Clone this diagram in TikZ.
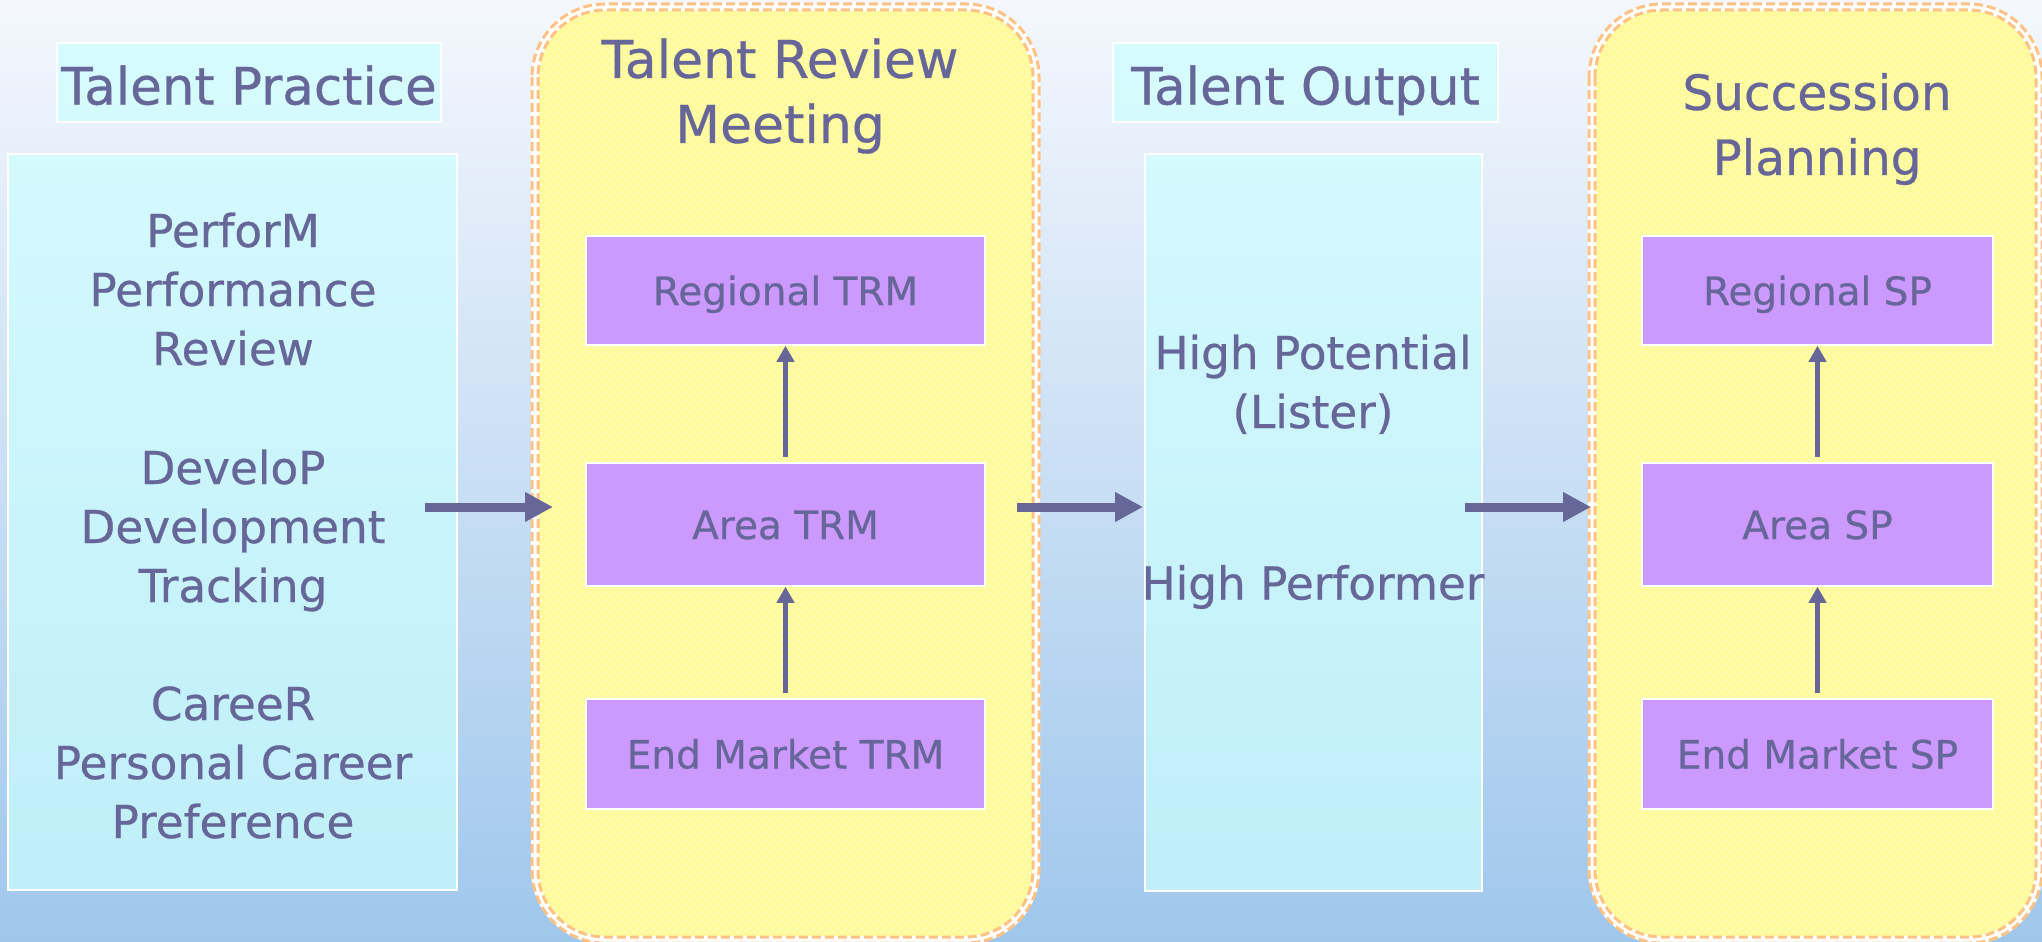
\documentclass[tikz,border=0pt]{standalone}
\usepackage{fontspec}
\setmainfont{DejaVu Sans}[FakeBold=0.6]
\usetikzlibrary{arrows.meta,patterns.meta,calc}

\definecolor{ink}{HTML}{666699}
\definecolor{bgtop}{HTML}{F4F7FD}
\definecolor{bgbot}{HTML}{9FC7EC}
\definecolor{cyanfill}{HTML}{CCFFFF}
\definecolor{lilac}{HTML}{CC99FF}
\definecolor{butter}{HTML}{FFFA9C}
\definecolor{peach}{HTML}{FFC285}

% small white sprinkles on the yellow stage panels
\tikzdeclarepattern{
  name=sprinkle,
  type=uncolored,
  bottom left={(0pt,0pt)},
  top right={(8pt,8pt)},
  tile size={(8pt,8pt)},
  code={
    \pgfpathcircle{\pgfqpoint{2pt}{2pt}}{0.9pt}
    \pgfpathcircle{\pgfqpoint{6pt}{6pt}}{0.9pt}
    \pgfusepath{fill}
  }
}

\tikzset{
  panel/.style={draw=white, line width=2, fill=cyanfill, fill opacity=0.7,
    text opacity=1, inner sep=0, outer sep=0},
  stage/.style={draw=white, line width=8, fill=butter, rounded corners=70,
    inner sep=0, outer sep=0,
    postaction={pattern=sprinkle, pattern color=white}},
  stagedash/.style={draw=peach, line width=3, dash pattern=on 9 off 4},
  level/.style={draw=white, line width=1.5, fill=lilac, inner sep=0,
    minimum width=#1, font=\fontsize{39}{47}\selectfont, text=ink,
    text height=29, text depth=0},
  heading/.style={font=\fontsize{#1}{65}\selectfont, text=ink, align=center},
  heading/.default=52,
  labeltext/.style={font=\fontsize{51.5}{65}\selectfont, text=ink,
    text height=44, text depth=0},
  body/.style={font=\fontsize{45.3}{59}\selectfont, text=ink, align=center,
    text height=34, text depth=12}
}
\tikzset{
  flow/.style={draw=ink, line width=9,
    -{Triangle[length=28pt,width=28pt]}},
  rise/.style={draw=ink, line width=5.5,
    -{Triangle[length=16pt,width=17pt]}}
}

\begin{document}
\begin{tikzpicture}[x=1pt,y=-1pt]
  \useasboundingbox (0,0) rectangle (2042,942);
  \shade[top color=bgtop, bottom color=bgbot] (0,0) rectangle (2042,942);

  % column 1: talent practice
  \node[panel, labeltext, minimum width=384, minimum height=79] (tplabel)
    at (249,82.5) {Talent Practice};
  \node[panel, minimum width=449, minimum height=736] (leftbox) at (232.5,522) {};
  \node[body] (perform) at (233,354) {PerforM\\Performance\\Review};
  \node[body] (develop) at (233,591) {DeveloP\\Development\\Tracking};
  \node[body] (career)  at (233,827) {CareeR\\Personal Career\\Preference};

  % column 2: talent review meeting
  \node[stage, minimum width=501, minimum height=933] (ybox1) at (785.5,473.5) {};
  \draw[stagedash, rounded corners=73]
    ($(ybox1.north west)+(-3,-3)$) rectangle ($(ybox1.south east)+(3,3)$);
  \draw[stagedash, rounded corners=67]
    ($(ybox1.north west)+(3,3)$) rectangle ($(ybox1.south east)+(-3,-3)$);
  \node[heading] (trmtitle) at (780,96) {Talent Review\\Meeting};
  \node[level=399, minimum height=109] (reg1)  at (785.5,290.5) {Regional TRM};
  \node[level=399, minimum height=123] (area1) at (785.5,524.5) {Area TRM};
  \node[level=399, minimum height=110] (end1)  at (785.5,754)   {End Market TRM};
  \draw[rise] ([yshift=5]area1.north) -- (reg1.south);
  \draw[rise] ([yshift=5]end1.north) -- (area1.south);

  % column 3: talent output
  \node[panel, labeltext, minimum width=385, minimum height=79] (tolabel)
    at (1305.5,82.5) {Talent Output};
  \node[panel, minimum width=337, minimum height=737] (midbox) at (1313.5,522.5) {};
  \node[body] (hipo) at (1313,417) {High Potential\\(Lister)};
  \node[font=\fontsize{45.3}{59}\selectfont, text=ink] (hiperf) at (1313,587) {High Performer};

  % column 4: succession planning
  \node[stage, minimum width=447, minimum height=933] (ybox2) at (1815.5,473.5) {};
  \draw[stagedash, rounded corners=73]
    ($(ybox2.north west)+(-3,-3)$) rectangle ($(ybox2.south east)+(3,3)$);
  \draw[stagedash, rounded corners=67]
    ($(ybox2.north west)+(3,3)$) rectangle ($(ybox2.south east)+(-3,-3)$);
  \node[heading=48.5] (sptitle) at (1817,129) {Succession\\Planning};
  \node[level=351, minimum height=109] (reg2)  at (1817.5,290.5) {Regional SP};
  \node[level=351, minimum height=123] (area2) at (1817.5,524.5) {Area SP};
  \node[level=351, minimum height=110] (end2)  at (1817.5,754)   {End Market SP};
  \draw[rise] ([yshift=5]area2.north) -- (reg2.south);
  \draw[rise] ([yshift=5]end2.north) -- (area2.south);

  % flow between the columns
  \coordinate (lane) at (0,507);
  \draw[flow] ($(leftbox.east |- lane)+(-32,0)$) -- ($(ybox1.west |- lane)+(18,0)$);
  \draw[flow] ($(ybox1.east |- lane)+(-19,0)$) -- ($(midbox.west |- lane)+(-2,0)$);
  \draw[flow] ($(midbox.east |- lane)+(-17,0)$) -- ($(ybox2.west |- lane)+(-1,0)$);
\end{tikzpicture}
\end{document}
